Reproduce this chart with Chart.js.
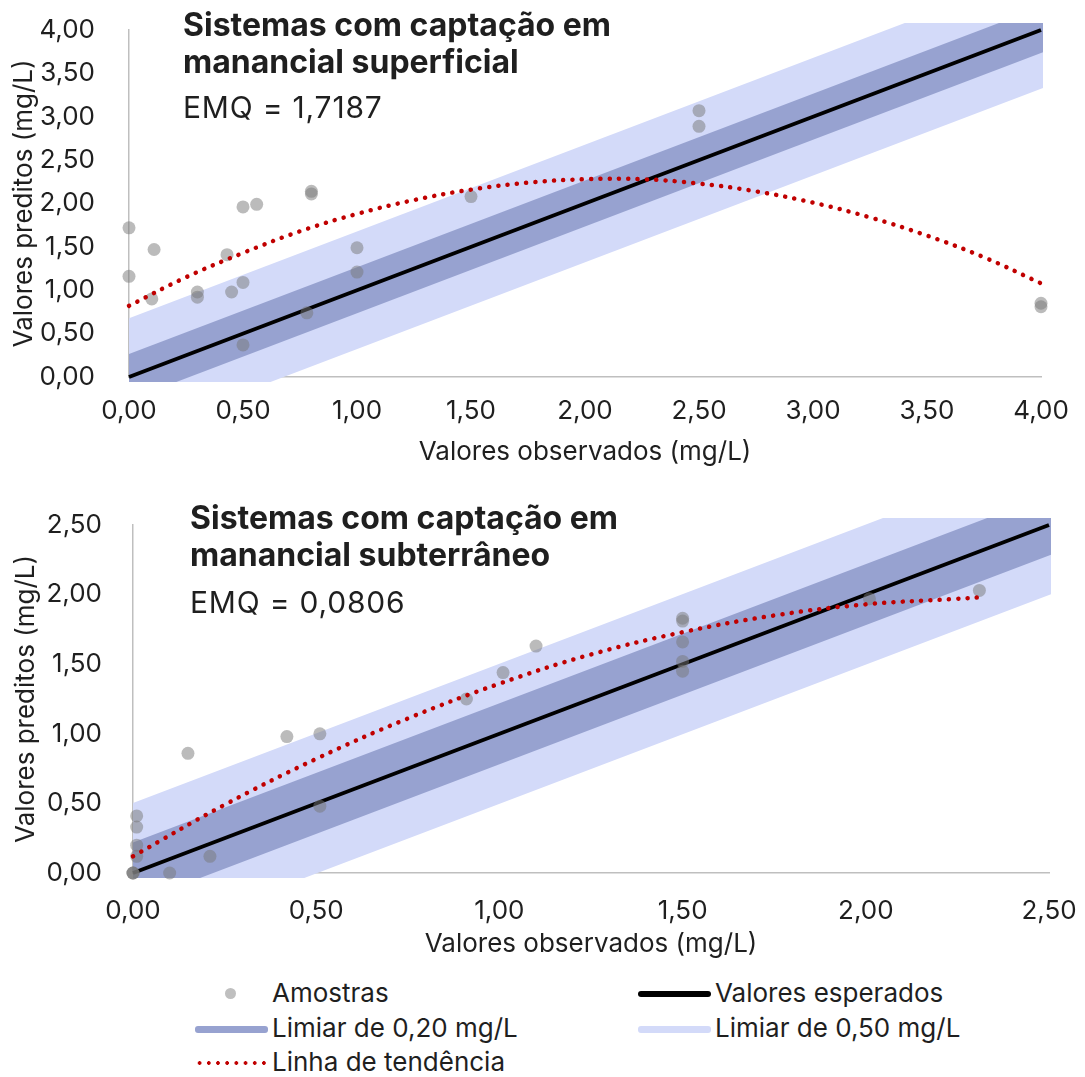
<!DOCTYPE html>
<html>
<head>
<meta charset="utf-8">
<script src="https://cdn.jsdelivr.net/npm/chart.js@4.4.1/dist/chart.umd.min.js"></script>
<style>
  body { margin: 0; background: #fff; font-family: Inter, "Noto Sans", sans-serif; color: #1f1f1f; }
  #wrap { position: relative; width: 1085px; height: 1077px; overflow: hidden; }
  .box { position: absolute; left: 0; width: 1085px; }
  .note { position: absolute; white-space: nowrap; }
  .head { font-weight: 700; font-size: 32px; line-height: 37px; }
  .emq { font-size: 30px; letter-spacing: 0.8px; }
  .leg { position: absolute; font-size: 26px; line-height: 32px; white-space: nowrap; }
  .sw { position: absolute; }
</style>
</head>
<body>
<div id="wrap">
  <div class="box" style="top:0;height:470px"><canvas id="chart-sup"></canvas></div>
  <div class="box" style="top:470px;height:500px"><canvas id="chart-sub"></canvas></div>

  <div class="note head" style="left:183px;top:6px">Sistemas com captação em<br>manancial superficial</div>
  <div class="note emq" style="left:183px;top:89px">EMQ = 1,7187</div>
  <div class="note head" style="left:190px;top:499px">Sistemas com captação em<br>manancial subterrâneo</div>
  <div class="note emq" style="left:190px;top:584px">EMQ = 0,0806</div>

  <div id="legend"></div>
</div>

<script>
// manancial superficial - amostras (observado x predito)
const supObs  = [0.00, 0.00, 0.11, 0.10, 0.30, 0.30, 0.43, 0.45, 0.50, 0.50, 0.50, 0.56, 0.80, 0.80, 0.78, 1.00, 1.00, 1.50, 2.50, 2.50, 4.00, 4.00];
const supPred = [1.72, 1.16, 1.47, 0.90, 0.98, 0.92, 1.41, 0.98, 1.09, 0.37, 1.96, 1.99, 2.14, 2.11, 0.74, 1.49, 1.21, 2.08, 3.07, 2.89, 0.85, 0.81];
// linha de tendencia
const supTrendX = [0, 0.25, 0.5, 0.75, 1, 1.25, 1.5, 1.75, 2, 2.25, 2.5, 2.75, 3, 3.25, 3.5, 3.75, 4];
const supTrendY = [0.82, 1.15, 1.43, 1.68, 1.88, 2.04, 2.16, 2.24, 2.28, 2.28, 2.23, 2.14, 2.01, 1.84, 1.63, 1.38, 1.08];

// manancial subterraneo
const subObs  = [0.01, 0.01, 0.01, 0.01, 0.00, 0.00, 0.00, 0.10, 0.15, 0.21, 0.42, 0.51, 0.51, 0.91, 1.01, 1.10, 1.50, 1.50, 1.50, 1.50, 1.50, 2.01, 2.31];
const subPred = [0.41, 0.33, 0.20, 0.12, 0.00, 0.00, 0.00, 0.00, 0.86, 0.12, 0.98, 1.00, 0.48, 1.25, 1.44, 1.63, 1.83, 1.81, 1.66, 1.52, 1.45, 1.97, 2.03];
const subTrendX = [0, 0.25, 0.5, 0.75, 1, 1.25, 1.5, 1.75, 2, 2.25, 2.31];
const subTrendY = [0.12, 0.49, 0.82, 1.11, 1.36, 1.57, 1.73, 1.85, 1.93, 1.97, 1.98];

// valores esperados (y = x)
const supExpected = [0, 4];
const subExpected = [0, 2.5];

const seriesNames = ['Amostras', 'Valores esperados', 'Limiar de 0,20 mg/L', 'Limiar de 0,50 mg/L', 'Linha de tendência'];

const C_POINT = 'rgba(120,120,120,0.5)';
const C_DARK = '#97a2d0';
const C_LIGHT = '#d3daf9';
const C_TREND = '#c00000';
const TXT = '#1f1f1f';
const FS = 26;

const pts = (xs, ys) => xs.map((x, i) => ({ x: x, y: ys[i] }));
const fmt = v => Number(v).toFixed(2).replace('.', ',');

function makeChart(id, o) {
  const line = pts(o.expected, o.expected);
  const bandClip = { left: 0, top: 7, right: 2, bottom: 5 };
  return new Chart(document.getElementById(id), {
    type: 'scatter',
    data: {
      datasets: [
        { label: seriesNames[0], data: pts(o.obs, o.pred), backgroundColor: C_POINT, borderWidth: 0, pointRadius: 6.5, clip: false, order: 2 },
        { label: seriesNames[4], data: pts(o.trendX, o.trendY), showLine: true, borderColor: C_TREND, borderWidth: 4.5,
          borderDash: [0.1, 9.2], borderCapStyle: 'round', pointRadius: 0, tension: 0.4, clip: false, order: 1 },
        { label: seriesNames[1], data: line, showLine: true, borderColor: '#000', borderWidth: 4, pointRadius: 0, clip: 4, order: 3 },
        { label: seriesNames[2], data: line, showLine: true, borderColor: C_DARK, borderWidth: o.dark, borderCapStyle: 'square', pointRadius: 0, clip: bandClip, order: 4 },
        { label: seriesNames[3], data: line, showLine: true, borderColor: C_LIGHT, borderWidth: o.light, borderCapStyle: 'square', pointRadius: 0, clip: bandClip, order: 5 }
      ]
    },
    options: {
      responsive: true,
      maintainAspectRatio: false,
      animation: false,
      layout: { autoPadding: false, padding: { top: o.padTop, right: o.padRight, left: 0, bottom: 0 } },
      plugins: { legend: { display: false }, tooltip: { enabled: false } },
      scales: {
        x: {
          type: 'linear', min: 0, max: o.max,
          ticks: { stepSize: 0.5, callback: fmt, font: { size: FS }, color: TXT, padding: o.xTickPad, maxRotation: 0 },
          grid: { display: false },
          border: { display: true, color: '#bfbfbf', width: 1.5 },
          title: { display: true, text: 'Valores observados (mg/L)', font: { size: FS }, color: TXT, padding: { top: 0, bottom: o.xTitlePad } },
          afterFit: s => { s.height = o.xH; s.paddingLeft = 0; s.paddingRight = 0; }
        },
        y: {
          type: 'linear', min: 0, max: o.max,
          ticks: { stepSize: 0.5, callback: fmt, font: { size: FS }, color: TXT, padding: o.yTickPad },
          grid: { display: false },
          border: { display: true, color: '#bfbfbf', width: 1.5 },
          title: { display: true, text: 'Valores preditos (mg/L)', font: { size: FS }, color: TXT, padding: { top: o.yTitlePad, bottom: 0 } },
          afterFit: s => { s.width = o.yW; s.paddingTop = 0; s.paddingBottom = 0; }
        }
      }
    }
  });
}

Chart.defaults.font.family = 'Inter, "Noto Sans", sans-serif';

makeChart('chart-sup', {
  obs: supObs, pred: supPred, trendX: supTrendX, trendY: supTrendY, expected: supExpected, max: 4,
  dark: 43, light: 110, padTop: 30, padRight: 44, xH: 93, yW: 129,
  xTickPad: 11, xTitlePad: 2, yTickPad: 26, yTitlePad: 9
});

makeChart('chart-sub', {
  obs: subObs, pred: subPred, trendX: subTrendX, trendY: subTrendY, expected: subExpected, max: 2.5,
  dark: 57, light: 131, padTop: 55, padRight: 36, xH: 97, yW: 133,
  xTickPad: 15, xTitlePad: 10, yTickPad: 23, yTitlePad: 11
});

// legenda comum aos dois graficos
const legendItems = [
  { name: seriesNames[0], col: 0, row: 0, kind: 'dot', color: '#bfbfbf' },
  { name: seriesNames[1], col: 1, row: 0, kind: 'bar', color: '#000', h: 6 },
  { name: seriesNames[2], col: 0, row: 1, kind: 'bar', color: C_DARK, h: 7 },
  { name: seriesNames[3], col: 1, row: 1, kind: 'bar', color: C_LIGHT, h: 7 },
  { name: seriesNames[4], col: 0, row: 2, kind: 'dots', color: C_TREND }
];
const legend = document.getElementById('legend');
const colText = [272, 715], colSw = [195, 638], rowY = [993, 1028, 1062];
legendItems.forEach(it => {
  const t = document.createElement('div');
  t.className = 'leg';
  t.textContent = it.name;
  t.style.left = colText[it.col] + 'px';
  t.style.top = (rowY[it.row] - 16) + 'px';
  legend.appendChild(t);
  const s = document.createElement('div');
  s.className = 'sw';
  const cy = rowY[it.row] + 1;
  if (it.kind === 'dot') {
    Object.assign(s.style, { left: '225px', top: (cy - 6) + 'px', width: '11px', height: '11px', borderRadius: '50%', background: it.color });
  } else if (it.kind === 'bar') {
    Object.assign(s.style, { left: colSw[it.col] + 'px', top: (cy - it.h / 2) + 'px', width: '73px', height: it.h + 'px', borderRadius: '3px', background: it.color });
  } else {
    Object.assign(s.style, { left: colSw[it.col] + 'px', top: (cy - 2) + 'px', width: '73px', height: '4px',
      background: 'radial-gradient(circle, ' + it.color + ' 1.7px, transparent 2.1px) 0 0 / 9.2px 4px repeat-x' });
  }
  legend.appendChild(s);
});
</script>
</body>
</html>
